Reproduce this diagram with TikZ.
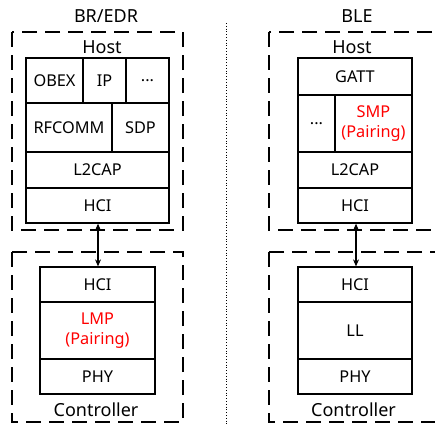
\documentclass[tikz,border=0pt]{standalone}
\usepackage{fontspec}
\setmainfont{Noto Sans}
\usetikzlibrary{arrows.meta}
\begin{document}
\begin{tikzpicture}[x=1pt,y=-1pt,
  cell/.style={draw, line width=1.3pt, inner sep=0pt, align=center, font=\fontsize{16.3}{20}\selectfont},
  grp/.style={draw, line width=1.2pt, dash pattern=on 15pt off 8pt},
  lbl/.style={font=\fontsize{18}{21}\selectfont, inner sep=0pt},
  hl/.style={text=red}]
\useasboundingbox (0,0) rectangle (435,424);
\clip (0,0) rectangle (435,424);
% group boxes
\draw[grp] (12,32) rectangle (183,230);
\draw[grp] (12,252) rectangle (183,422);
\draw[grp] (269,32) rectangle (440,230);
\draw[grp] (269,252) rectangle (440,422);
% separator
\draw[line width=0.8pt, dotted] (226,23) -- (226,424);
% titles
\node[lbl] (t1) at (106,16) {BR/EDR};
\node[lbl] (t2) at (357,16) {BLE};
\node[lbl] (h1) at (102,47) {Host};
\node[lbl] (h2) at (352,47) {Host};
\node[lbl] (c1) at (96,410) {Controller};
\node[lbl] (c2) at (353.5,410) {Controller};
% left host
\node[cell, minimum width=57pt, minimum height=45pt] (obex) at (54.5,80.5) {OBEX};
\node[cell, minimum width=43pt, minimum height=45pt] (ip) at (104.5,80.5) {IP};
\node[cell, minimum width=43pt, minimum height=45pt] (d1) at (147.5,80.5) {...};
\node[cell, minimum width=86pt, minimum height=49pt] (rfc) at (69,127.5) {RFCOMM};
\node[cell, minimum width=57pt, minimum height=49pt] (sdp) at (140.5,127.5) {SDP};
\node[cell, minimum width=143pt, minimum height=36pt] (l2l) at (97.5,170) {L2CAP};
\node[cell, minimum width=143pt, minimum height=35pt] (hcil) at (97.5,205.5) {HCI};
% left controller
\node[cell, minimum width=115pt, minimum height=35pt] (chcil) at (97.5,284.5) {HCI};
\node[cell, minimum width=115pt, minimum height=57pt, hl] (lmp) at (97.5,330.5) {LMP\\(Pairing)};
\node[cell, minimum width=115pt, minimum height=35pt] (phyl) at (97.5,376.5) {PHY};
% right host
\node[cell, minimum width=114pt, minimum height=37pt] (gatt) at (355,76.5) {GATT};
\node[cell, minimum width=37pt, minimum height=57pt] (d2) at (316.5,123.5) {...};
\node[cell, minimum width=77pt, minimum height=57pt, hl] (smp) at (373.5,123.5) {SMP\\(Pairing)};
\node[cell, minimum width=114pt, minimum height=36pt] (l2r) at (355,170) {L2CAP};
\node[cell, minimum width=114pt, minimum height=35pt] (hcir) at (355,205.5) {HCI};
% right controller
\node[cell, minimum width=114pt, minimum height=35pt] (chcir) at (355,284.5) {HCI};
\node[cell, minimum width=114pt, minimum height=57pt] (ll) at (355,330.5) {LL};
\node[cell, minimum width=114pt, minimum height=35pt] (phyr) at (355,376.5) {PHY};
% arrows
\draw[line width=1.1pt, {Stealth[length=7pt,width=6pt]}-{Stealth[length=7pt,width=6pt]}] (hcil.south -| 98,0) -- (chcil.north -| 98,0);
\draw[line width=1.1pt, {Stealth[length=7pt,width=6pt]}-{Stealth[length=7pt,width=6pt]}] (hcir.south -| 356,0) -- (chcir.north -| 356,0);
\end{tikzpicture}
\end{document}
